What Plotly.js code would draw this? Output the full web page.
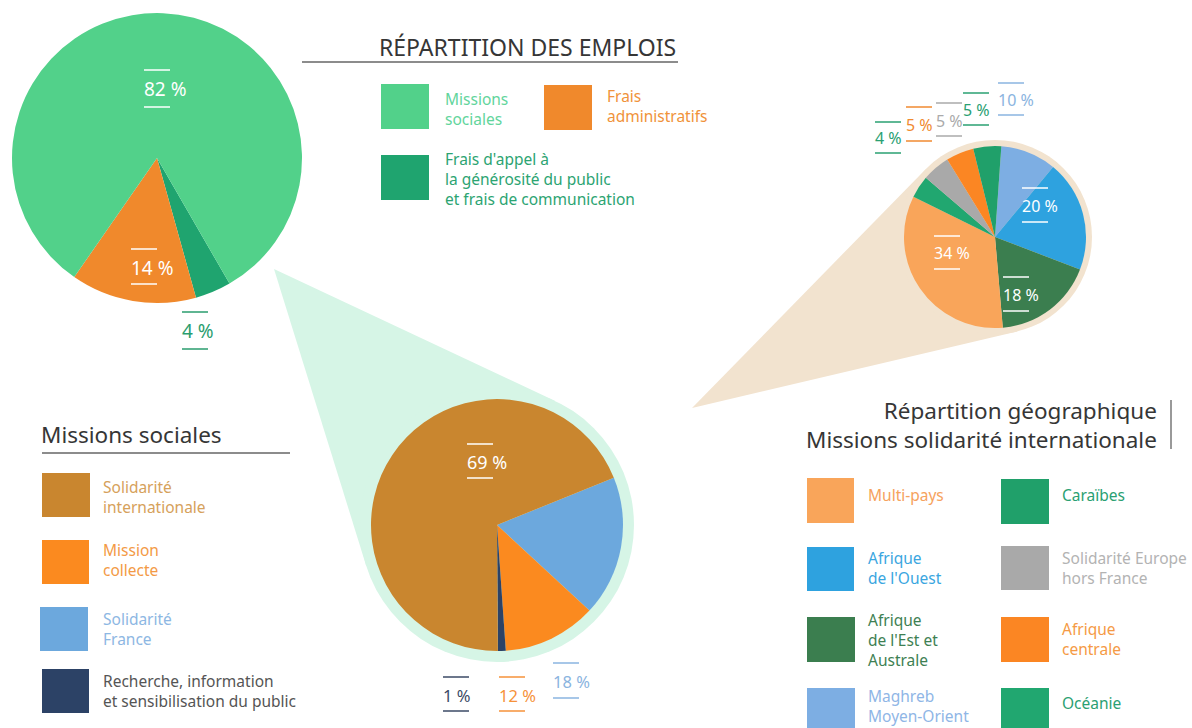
<!DOCTYPE html>
<html><head><meta charset="utf-8">
<script src="https://cdn.plot.ly/plotly-3.0.1.min.js"></script>
<style>html,body{margin:0;padding:0;background:#fff;overflow:hidden}#chart{width:1192px;height:728px}</style>
</head><body><div id="chart"></div>
<script>
// ---------- DATA ----------
const emploisTitle = 'RÉPARTITION DES EMPLOIS';
const emploisLabels = ['Missions sociales', 'Frais administratifs', "Frais d'appel à la générosité du public et frais de communication"];
const emploisValues = [82, 14, 4];
const emploisLegendText = ['Missions<br>sociales', 'Frais<br>administratifs', "Frais d'appel à<br>la générosité du public<br>et frais de communication"];

const missionsTitle = 'Missions sociales';
const missionsLabels = ['Solidarité internationale', 'Mission collecte', 'Solidarité France', 'Recherche, information et sensibilisation du public'];
const missionsValues = [69, 12, 18, 1];
const missionsLegendText = ['Solidarité<br>internationale', 'Mission<br>collecte', 'Solidarité<br>France', 'Recherche, information<br>et sensibilisation du public'];

const geoTitle = ['Répartition géographique', 'Missions solidarité internationale'];
const geoLabels = ['Multi-pays', "Afrique de l'Ouest", "Afrique de l'Est et Australe", 'Maghreb Moyen-Orient', 'Caraïbes', 'Solidarité Europe hors France', 'Afrique centrale', 'Océanie'];
const geoValues = [34, 20, 18, 10, 5, 5, 5, 4];
const geoLegendText = ['Multi-pays', "Afrique<br>de l'Ouest", "Afrique<br>de l'Est et<br>Australe", 'Maghreb<br>Moyen-Orient', 'Caraïbes', 'Solidarité Europe<br>hors France', 'Afrique<br>centrale', 'Océanie'];

// ---------- STYLE ----------
const W = 1192, H = 728;
const FONT = 'Noto Sans, Open Sans, sans-serif';
const emploisColors = ['#52d18a', '#f0892c', '#1fa46f'];
const emploisTextColors = ['#62d59c', '#f0923a', '#2ca472'];
const missionsColors = ['#c9862f', '#fb8a1f', '#6ca8dd', '#2c4266'];
const missionsTextColors = ['#d6a15b', '#f39a46', '#8db7e3', '#555555'];
const geoColors = ['#f9a55a', '#2ea2df', '#3b7e4f', '#7daee3', '#20a06a', '#a9a9a9', '#fb8623', '#21a770'];
const geoTextColors = ['#f6a25e', '#3aa6df', '#3e7f53', '#8fb6e6', '#2aa072', '#b3b3b3', '#f59a45', '#2aa072'];

// slice order (clockwise) and placement
const emploisOrder = [2, 1, 0];
const missionsOrder = [2, 1, 3, 0];
const geoOrder = [3, 1, 2, 0, 7, 5, 6, 4];
const P1 = {cx: 157, cy: 158, r: 145, rot: 150};
const P2 = {cx: 497, cy: 525, r: 126, rot: 68, halo: 137, apex: [274, 269], haloColor: '#d6f5e6'};
const P3 = {cx: 995, cy: 237, r: 91, rot: 4, halo: 97, apex: [692, 408], haloColor: '#f2e3cf'};

const px = x => x / W;
const py = y => 1 - y / H;

function pieTrace(labels, values, colors, order, P) {
  return {
    type: 'pie', sort: false, direction: 'clockwise', rotation: P.rot,
    labels: order.map(i => labels[i]), values: order.map(i => values[i]),
    marker: {colors: order.map(i => colors[i]), line: {width: 0}},
    textinfo: 'none', hoverinfo: 'label+value', showlegend: false,
    domain: {x: [px(P.cx - P.r), px(P.cx + P.r)], y: [py(P.cy + P.r), py(P.cy - P.r)]}
  };
}

const data = [
  pieTrace(emploisLabels, emploisValues, emploisColors, emploisOrder, P1),
  pieTrace(missionsLabels, missionsValues, missionsColors, missionsOrder, P2),
  pieTrace(geoLabels, geoValues, geoColors, geoOrder, P3)
];

const shapes = [];
const annotations = [];

// zoom cones + halos
function cone(P) {
  const [ax, ay] = P.apex;
  const dx = ax - P.cx, dy = ay - P.cy;
  const d = Math.hypot(dx, dy);
  const th = Math.atan2(dy, dx);
  const a = Math.acos(P.halo / d);
  const t1 = [P.cx + P.halo * Math.cos(th + a), P.cy + P.halo * Math.sin(th + a)];
  const t2 = [P.cx + P.halo * Math.cos(th - a), P.cy + P.halo * Math.sin(th - a)];
  const path = `M ${px(ax)} ${py(ay)} L ${px(t1[0])} ${py(t1[1])} L ${px(P.cx)} ${py(P.cy)} L ${px(t2[0])} ${py(t2[1])} Z`;
  shapes.push({type: 'path', xref: 'paper', yref: 'paper', path, fillcolor: P.haloColor, line: {width: 0}, layer: 'below'});
  shapes.push({type: 'circle', xref: 'paper', yref: 'paper', x0: px(P.cx - P.halo), x1: px(P.cx + P.halo), y0: py(P.cy + P.halo), y1: py(P.cy - P.halo), fillcolor: P.haloColor, line: {width: 0}, layer: 'below'});
}
cone(P2);
cone(P3);

function hline(x0, x1, y, color, w) {
  shapes.push({type: 'line', xref: 'paper', yref: 'paper', x0: px(x0), x1: px(x1), y0: py(y), y1: py(y), line: {color, width: w || 1.5}, layer: 'above'});
}
function rect(x0, y0, x1, y1, color) {
  shapes.push({type: 'rect', xref: 'paper', yref: 'paper', x0: px(x0), x1: px(x1), y0: py(y1), y1: py(y0), fillcolor: color, line: {width: 0}, layer: 'above'});
}
function text(t, x, y, opts) {
  annotations.push(Object.assign({
    text: t, xref: 'paper', yref: 'paper', x: px(x), y: py(y), showarrow: false,
    xanchor: 'left', yanchor: 'middle', align: 'left',
    font: {family: FONT, size: 14, color: '#444'}
  }, opts || {}));
}

// ---------- Titles ----------
text(emploisTitle, 678, 47, {xanchor: 'right', font: {family: FONT, size: 23, color: '#363636'}});
hline(302, 678, 62, '#666', 1.5);
text(missionsTitle, 39, 434, {font: {family: FONT, size: 22.5, color: '#363636'}});
hline(42, 290, 453, '#666', 1.5);
text(geoTitle.join('<br>'), 1159, 425, {xanchor: 'right', align: 'right', font: {family: FONT, size: 22.5, color: '#363636'}});
shapes.push({type: 'line', xref: 'paper', yref: 'paper', x0: px(1171), x1: px(1171), y0: py(400), y1: py(449), line: {color: '#777', width: 1.5}});

// ---------- Legends ----------
const LF = 15.5;
const leg1 = [
  {i: 0, sq: [381, 84, 429, 129], tx: 443, ty: 109},
  {i: 1, sq: [544, 85, 592, 130], tx: 605, ty: 106},
  {i: 2, sq: [381, 155, 429, 200], tx: 443, ty: 179}
];
leg1.forEach(e => {
  rect(...e.sq, emploisColors[e.i]);
  text(emploisLegendText[e.i], e.tx, e.ty, {font: {family: FONT, size: LF, color: emploisTextColors[e.i]}});
});
const leg2 = [
  {i: 0, sq: [42, 473, 90, 517], ty: 497},
  {i: 1, sq: [42, 540, 89, 584], ty: 560},
  {i: 2, sq: [40, 607, 88, 651], ty: 629},
  {i: 3, sq: [42, 669, 89, 713], ty: 691}
];
leg2.forEach(e => {
  rect(...e.sq, missionsColors[e.i]);
  text(missionsLegendText[e.i], 101, e.ty, {font: {family: FONT, size: LF, color: missionsTextColors[e.i]}});
});
const leg3 = [
  {i: 0, sq: [807, 478, 854, 523], tx: 866, ty: 495},
  {i: 1, sq: [807, 547, 854, 591], tx: 866, ty: 568},
  {i: 2, sq: [807, 617, 855, 662], tx: 866, ty: 640},
  {i: 3, sq: [807, 688, 855, 740], tx: 866, ty: 706},
  {i: 4, sq: [1001, 479, 1049, 524], tx: 1060, ty: 495},
  {i: 5, sq: [1001, 546, 1049, 590], tx: 1060, ty: 568},
  {i: 6, sq: [1001, 617, 1049, 662], tx: 1060, ty: 639},
  {i: 7, sq: [1001, 688, 1049, 740], tx: 1060, ty: 703}
];
leg3.forEach(e => {
  rect(...e.sq, geoColors[e.i]);
  text(geoLegendText[e.i], e.tx, e.ty, {font: {family: FONT, size: LF, color: geoTextColors[e.i]}});
});

// ---------- Value labels ----------
const labels = [
  {v: emploisValues, i: 0, x: 144, y: 89, up: 70, dn: 107, c: '#ffffff', s: 19},
  {v: emploisValues, i: 1, x: 131, y: 268, up: 249, dn: 284, c: '#ffffff', s: 19},
  {v: emploisValues, i: 2, x: 182, y: 331, up: 312, dn: 349, c: '#2a9d6e', s: 19},
  {v: missionsValues, i: 0, x: 467, y: 462, up: 444, dn: 478, c: '#ffffff', s: 18},
  {v: missionsValues, i: 3, x: 443, y: 695, up: 677, dn: 711, c: '#3b4a66', s: 16.5},
  {v: missionsValues, i: 1, x: 499, y: 695, up: 677, dn: 711, c: '#f6923a', s: 16.5},
  {v: missionsValues, i: 2, x: 553, y: 681, up: 663, dn: 698, c: '#8ab4e0', s: 16.5},
  {v: geoValues, i: 1, x: 1022, y: 206, up: 188, dn: 222, c: '#ffffff', s: 16},
  {v: geoValues, i: 0, x: 934, y: 253, up: 236, dn: 269, c: '#ffffff', s: 16},
  {v: geoValues, i: 2, x: 1003, y: 295, up: 277, dn: 311, c: '#ffffff', s: 16},
  {v: geoValues, i: 7, x: 875, y: 138, up: 122, dn: 153, c: '#2aa072', s: 16},
  {v: geoValues, i: 6, x: 906, y: 125, up: 107, dn: 141, c: '#f08a30', s: 16},
  {v: geoValues, i: 5, x: 936, y: 121, up: 103, dn: 136, c: '#aaaaaa', s: 16},
  {v: geoValues, i: 4, x: 963, y: 110, up: 93, dn: 125, c: '#2aa072', s: 16},
  {v: geoValues, i: 3, x: 998, y: 100, up: 83, dn: 115, c: '#8ab4e0', s: 16}
];
labels.forEach(l => {
  text(l.v[l.i] + ' %', l.x - 2, l.y, {font: {family: FONT, size: l.s, color: l.c}});
  hline(l.x, l.x + 26, l.up, l.c, 1.5);
  hline(l.x, l.x + 26, l.dn, l.c, 1.5);
});

const layout = {
  width: W, height: H, margin: {l: 0, r: 0, t: 0, b: 0},
  paper_bgcolor: '#ffffff', plot_bgcolor: '#ffffff', showlegend: false,
  font: {family: FONT}, shapes, annotations
};
Plotly.newPlot('chart', data, layout, {displayModeBar: false, staticPlot: true});
</script>
</body></html>
